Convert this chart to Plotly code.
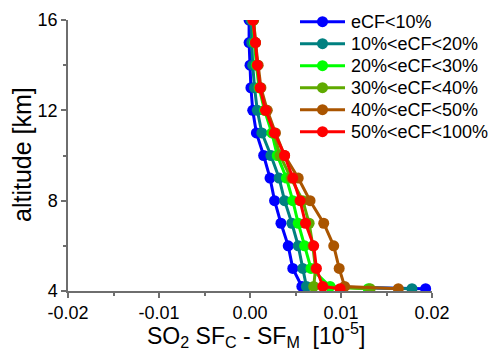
import plotly.graph_objects as go

# Altitude levels (km) shared by all cloud-fraction classes
altitude = [16, 15, 14, 13, 12, 11, 10, 9, 8, 7, 6, 5, 4.2, 4.1]

# SO2 slant-factor difference SF_C - SF_M (units of 1e-5) per effective cloud fraction class
ecf_lt10 = [-0.0001, -0.0001, 0.0000, 0.0001, 0.0003, 0.0007, 0.0015, 0.0022, 0.0027, 0.0034, 0.0042, 0.0047, 0.0057, 0.0193]
ecf_10_20 = [0.0001, 0.0002, 0.0003, 0.0005, 0.0008, 0.0013, 0.0023, 0.0032, 0.0038, 0.0046, 0.0053, 0.0058, 0.0062, 0.0178]
ecf_20_30 = [0.0003, 0.0005, 0.0007, 0.0010, 0.0016, 0.0024, 0.0030, 0.0040, 0.0047, 0.0053, 0.0060, 0.0067, 0.0088, 0.0130]
ecf_30_40 = [0.0004, 0.0006, 0.0008, 0.0011, 0.0018, 0.0026, 0.0033, 0.0045, 0.0058, 0.0065, 0.0069, 0.0072, 0.0070, 0.0132]
ecf_40_50 = [0.0004, 0.0006, 0.0009, 0.0012, 0.0019, 0.0028, 0.0038, 0.0053, 0.0066, 0.0081, 0.0092, 0.0098, 0.0104, 0.0163]
ecf_50_100 = [0.0003, 0.0006, 0.0008, 0.0011, 0.0017, 0.0027, 0.0038, 0.0047, 0.0055, 0.0061, 0.0070, 0.0073, 0.0080, 0.0099]

series = [
    ("eCF<10%", ecf_lt10, "#0000FF"),
    ("10%<eCF<20%", ecf_10_20, "#008080"),
    ("20%<eCF<30%", ecf_20_30, "#00FF00"),
    ("30%<eCF<40%", ecf_30_40, "#5FAA00"),
    ("40%<eCF<50%", ecf_40_50, "#AA5500"),
    ("50%<eCF<100%", ecf_50_100, "#FF0000"),
]

x_ticks = [-0.02, -0.01, 0.0, 0.01, 0.02]
x_tick_labels = ["-0.02", "-0.01", "0.00", "0.01", "0.02"]
y_ticks = [4, 8, 12, 16]

x_title = "SO<sub>2</sub> SF<sub>C</sub> - SF<sub>M</sub>\u00a0 [10<sup>-5</sup>]"
y_title = "altitude [km]"

W, H = 491, 352
M_L, M_R, M_T, M_B = 68, 59, 20, 61
PLOT_W = W - M_L - M_R
PLOT_H = H - M_T - M_B


def paper_x(px):
    return (px - M_L) / PLOT_W


def paper_y(py):
    return (H - M_B - py) / PLOT_H


fig = go.Figure()
for name, values, color in series:
    fig.add_trace(go.Scatter(
        x=values, y=altitude, name=name, mode="lines+markers",
        line=dict(color=color, width=3),
        marker=dict(color=color, size=11),
        showlegend=False,
    ))

# Compact legend: line sample with a dot, then the class label
LEG_X0, LEG_X1, LEG_TEXT_X = 300, 345, 349
LEG_TOP, LEG_STEP = 21.7, 22
for i, (name, _, color) in enumerate(series):
    yc = paper_y(LEG_TOP + i * LEG_STEP)
    fig.add_shape(type="line", xref="paper", yref="paper",
                  x0=paper_x(LEG_X0), x1=paper_x(LEG_X1), y0=yc, y1=yc,
                  line=dict(color=color, width=3))
    fig.add_shape(type="circle", xref="paper", yref="paper",
                  xsizemode="pixel", ysizemode="pixel",
                  xanchor=paper_x((LEG_X0 + LEG_X1) / 2), yanchor=yc,
                  x0=-5.5, x1=5.5, y0=-5.5, y1=5.5,
                  fillcolor=color, line=dict(width=0))
    fig.add_annotation(xref="paper", yref="paper", x=paper_x(LEG_TEXT_X), y=yc,
                       xanchor="left", yanchor="middle", showarrow=False,
                       text=name, font=dict(size=18, color="black"))

# Axis titles placed as free text
fig.add_annotation(xref="paper", yref="paper", x=paper_x(256), y=paper_y(335),
                   xanchor="center", yanchor="middle", showarrow=False,
                   text=x_title, font=dict(size=23, color="black"))
fig.add_annotation(xref="paper", yref="paper", x=paper_x(22), y=paper_y(155),
                   xanchor="center", yanchor="middle", showarrow=False, textangle=-90,
                   text=y_title, font=dict(size=25, color="black"))

axis_color = "#6e6e6e"
font_family = "Arial"

fig.update_layout(
    width=W, height=H,
    margin=dict(l=M_L, r=M_R, t=M_T, b=M_B, autoexpand=False),
    paper_bgcolor="white", plot_bgcolor="white",
    font=dict(family=font_family, color="black", size=18),
    showlegend=False,
    xaxis=dict(
        range=[-0.02, 0.02], tickvals=x_ticks, ticktext=x_tick_labels,
        showgrid=False, zeroline=False, showline=True, linecolor=axis_color, linewidth=1.5,
        ticks="outside", ticklen=5, tickcolor=axis_color, tickwidth=1.5,
        minor=dict(dtick=0.005, ticks="outside", ticklen=3, tickcolor=axis_color, tickwidth=1.5),
        tickfont=dict(size=18),
    ),
    yaxis=dict(
        range=[4, 16], tickvals=y_ticks,
        showgrid=False, zeroline=False, showline=True, linecolor=axis_color, linewidth=1.5,
        ticks="outside", ticklen=5, tickcolor=axis_color, tickwidth=1.5,
        minor=dict(dtick=2, ticks="outside", ticklen=3, tickcolor=axis_color, tickwidth=1.5),
        tickfont=dict(size=18),
    ),
)

fig.write_html("out.html")
